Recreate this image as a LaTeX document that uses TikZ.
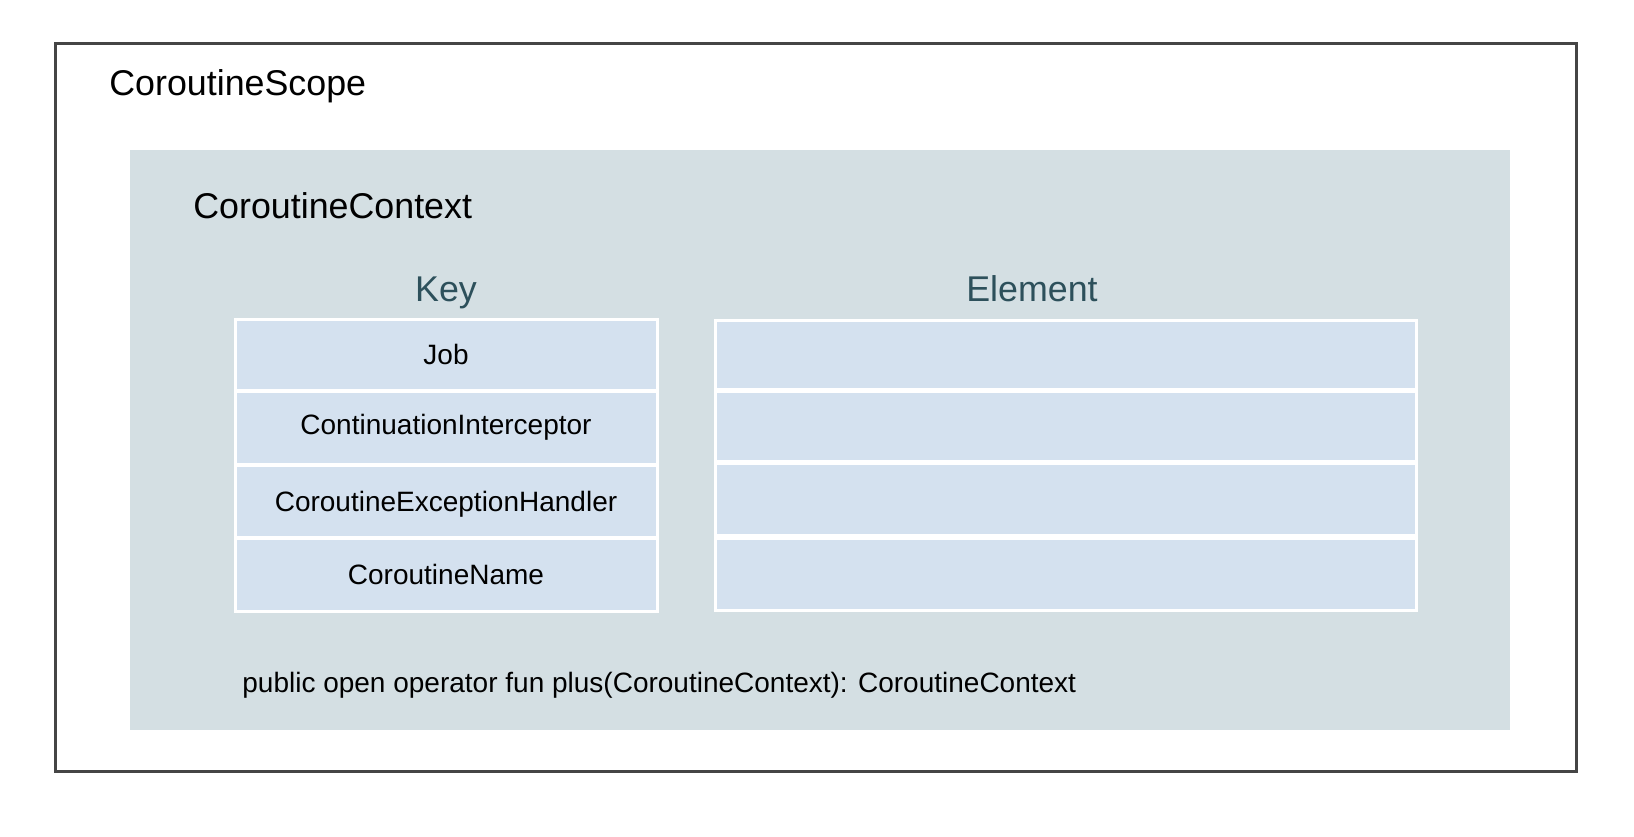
\documentclass[tikz,border=0pt]{standalone}
\usepackage{fontspec}
\setmainfont{Liberation Sans}
\definecolor{ctxgray}{HTML}{D4DFE3}
\definecolor{cellblue}{HTML}{D4E1EF}
\definecolor{headteal}{HTML}{2D505B}
\definecolor{framegray}{HTML}{454545}
\tikzset{
  bigtext/.style={font=\fontsize{17.9pt}{21pt}\selectfont, inner sep=0pt},
  smalltext/.style={font=\fontsize{14pt}{17pt}\selectfont, inner sep=0pt},
  headtext/.style={bigtext, text=headteal},
  cellbox/.style={draw=white, line width=1.5pt, fill=cellblue, inner sep=0pt,
    font=\fontsize{14pt}{17pt}\selectfont},
  keycell/.style={cellbox, minimum width=211pt},
  elemcell/.style={cellbox, minimum width=350.5pt},
}
\begin{document}
\begin{tikzpicture}[x=0.5pt, y=-0.5pt]
\useasboundingbox[fill=white] (0,0) rectangle (1634,836);
% outer scope frame
\node[draw=framegray, line width=1.5pt, minimum width=760.5pt, minimum height=364pt, inner sep=0pt] (scope) at (815.5,407) {};
\node[bigtext, anchor=west] (scopelabel) at (109,86) {CoroutineScope};
% context
\node[fill=ctxgray, minimum width=690pt, minimum height=290pt, inner sep=0pt] (context) at (820,440) {};
\node[bigtext, anchor=west] (contextlabel) at (193,206) {CoroutineContext};
% headings
\node[headtext] (keyhead) at (446,293) {Key};
\node[headtext] (elemhead) at (1032,289) {Element};
% key cells
\node[keycell, minimum height=35.5pt] (k1) at (446,354.5) {Job};
\node[keycell, minimum height=36.5pt] (k2) at (446,427.5) {ContinuationInterceptor};
\node[keycell, minimum height=36pt] (k3) at (446,501) {};
\node[smalltext] (k3text) at (446,504) {CoroutineExceptionHandler};
\node[keycell, minimum height=36.5pt] (k4) at (446,574.5) {CoroutineName};
% element cells
\node[elemcell, minimum height=34.5pt] (e1) at (1065.5,354.5) {};
\node[elemcell, minimum height=35pt] (e2) at (1065.5,426) {};
\node[elemcell, minimum height=36pt] (e3) at (1065.5,499) {};
\node[elemcell, minimum height=36pt] (e4) at (1065.5,574) {};
% bottom text
\node[smalltext, anchor=west] (plus) at (242,685) {public open operator fun plus(CoroutineContext): CoroutineContext};
\end{tikzpicture}
\end{document}
